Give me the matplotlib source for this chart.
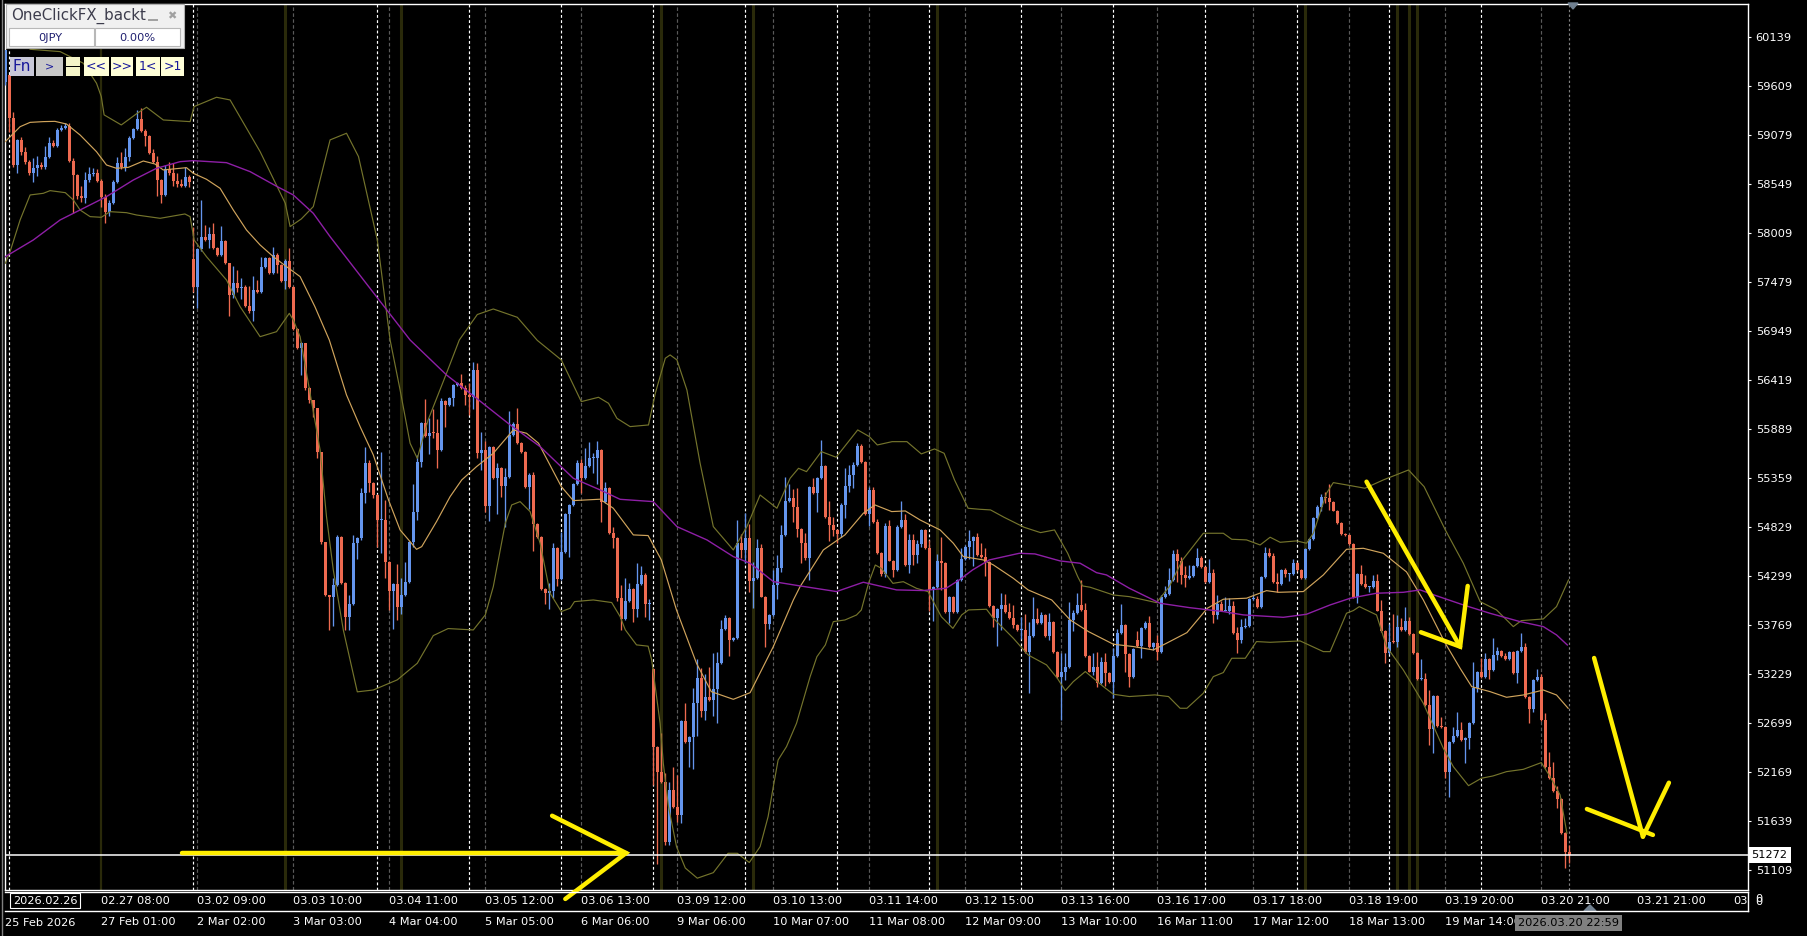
import matplotlib
matplotlib.use('Agg')
import matplotlib.pyplot as plt
from matplotlib.patches import Rectangle, Polygon
import numpy as np

# Hourly candles, closes (one row = 10 bars)
closes = [
    59997, 59257, 58751, 59022, 58895, 58787, 58661, 58715, 58751, 58726,
    58841, 58993, 58957, 59130, 59148, 59174, 58794, 58642, 58415, 58390,
    58588, 58653, 58668, 58581, 58400, 58245, 58343, 58570, 58776, 58726,
    58841, 59040, 59141, 59246, 59123, 59065, 58885, 58787, 58588, 58426,
    58704, 58661, 58581, 58545, 58523, 58617, 58563, 57432, 57837, 57974,
    57938, 58003, 57848, 57775, 57927, 57692, 57342, 57468, 57414, 57425,
    57223, 57172, 57396, 57378, 57649, 57743, 57577, 57775, 57667, 57497,
    57710, 57432, 56970, 56770, 56818, 56330, 56204, 56113, 55644, 54668,
    54090, 54072, 54198, 54722, 54216, 53855, 53993, 54650, 54704, 55192,
    55517, 55308, 55174, 54903, 54903, 54451, 54137, 54209, 53964, 54090,
    54235, 54668, 54993, 55535, 55958, 55813, 55850, 55842, 55662, 56196,
    56149, 56222, 56366, 56391, 56330, 56258, 56240, 56529, 55626, 55662,
    55055, 55698, 55355, 55463, 55271, 55373, 55825, 55944, 55735, 55644,
    55258, 55391, 54860, 54723, 54152, 54116, 54138, 54596, 54260, 54560,
    54965, 55066, 55294, 55525, 55355, 55489, 55572, 55576, 55662, 55102,
    55247, 54766, 54705, 54055, 53827, 54029, 54152, 53935, 54210, 54307,
    53993, 54000, 52446, 52175, 52066, 51416, 51976, 51795, 51705, 52724,
    52500, 52554, 52915, 53186, 52836, 52988, 52952, 53067, 53349, 53721,
    53837, 53602, 53620, 54651, 54578, 54705, 54242, 54271, 54596, 54073,
    53776, 53874, 54199, 54380, 54741, 55109, 55138, 55048, 54802, 54651,
    54488, 55258, 55193, 55355, 55489, 54932, 54849, 54795, 54752, 55066,
    55272, 55391, 55500, 55706, 55529, 54968, 55229, 54885, 54549, 54318,
    54838, 54463, 54362, 54831, 54903, 54416, 54687, 54524, 54643, 54795,
    54596, 54145, 54181, 54463, 54441, 53910, 54065, 53910, 54253, 54477,
    54607, 54679, 54716, 54524, 54499, 54452, 53971, 53838, 53935, 53982,
    53910, 53838, 53765, 53711, 53711, 53476, 53646, 53827, 53783, 53874,
    53646, 53801, 53476, 53198, 53260, 53306, 53820, 53899, 53982, 53928,
    53429, 53260, 53306, 53133, 53368, 53242, 53151, 53429, 53675, 53765,
    53451, 53198, 53502, 53541, 53729, 53791, 53523, 53567, 53476, 54065,
    54101, 54253, 54535, 54463, 54307, 54271, 54297, 54405, 54488, 54390,
    54235, 54325, 53874, 53996, 53921, 53921, 53971, 53675, 53603, 53740,
    53754, 54044, 54044, 53957, 54289, 54542, 54513, 54235, 54210, 54362,
    54318, 54318, 54434, 54362, 54271, 54589, 54694, 54921, 55048, 55156,
    55138, 55102, 55005, 54867, 54752, 54741, 54643, 54065, 54318, 54210,
    54174, 54181, 54246, 53921, 53704, 53458, 53585, 53584, 53747, 53711,
    53812, 53667, 53458, 53176, 53176, 52898, 52634, 52995, 52670, 52656,
    52175, 52500, 52562, 52627, 52518, 52536, 52706, 53078, 53259, 53205,
    53393, 53277, 53440, 53487, 53429, 53393, 53476, 53248, 53487, 53530,
    52988, 52851, 53169, 53205, 52735, 52229, 52103, 51969, 51875, 51507,
    51308, 51272,
]

# Opens follow the previous close except where the chart shows a gap
gap_opens = {0: 59654, 1: 59726, 47: 57728, 162: 53284, 283: 53603}

# Wick lengths above and below the body, in price points
upper_wicks = [
    0, 0, 70, 10, 36, 54, 20, 108, 97, 30,
    115, 65, 29, 20, 36, 29, 29, 36, 10, 104,
    90, 72, 47, 36, 18, 36, 29, 20, 65, 119,
    90, 25, 15, 100, 119, 18, 15, 36, 65, 10,
    47, 83, 115, 79, 54, 108, 25, 353, 10, 396,
    126, 79, 119, 15, 162, 15, 0, 187, 144, 97,
    29, 216, 151, 108, 108, 14, 10, 83, 18, 15,
    18, 137, 10, 10, 18, 0, 10, 0, 0, 0,
    0, 0, 72, 18, 10, 10, 97, 90, 10, 54,
    173, 36, 10, 10, 738, 220, 10, 10, 220, 180,
    216, 10, 300, 72, 10, 260, 155, 260, 155, 25,
    10, 10, 10, 10, 90, 36, 126, 90, 72, 198,
    97, 10, 10, 54, 10, 90, 263, 25, 170, 10,
    10, 18, 36, 10, 10, 10, 79, 54, 10, 216,
    10, 10, 10, 29, 43, 190, 180, 58, 100, 10,
    72, 10, 61, 10, 144, 240, 65, 10, 230, 97,
    18, 43, 10, 10, 420, 90, 90, 250, 340, 10,
    198, 10, 162, 205, 108, 250, 320, 390, 126, 97,
    36, 10, 10, 252, 100, 270, 150, 180, 97, 43,
    10, 10, 160, 144, 108, 263, 160, 97, 198, 10,
    108, 10, 97, 10, 281, 10, 173, 90, 10, 18,
    191, 108, 36, 29, 22, 10, 29, 36, 25, 10,
    29, 65, 10, 18, 209, 65, 65, 65, 43, 10,
    10, 94, 10, 72, 259, 10, 10, 10, 10, 119,
    25, 115, 14, 50, 126, 97, 10, 10, 10, 126,
    119, 97, 144, 10, 144, 169, 155, 238, 126, 36,
    10, 90, 10, 10, 198, 151, 198, 29, 126, 270,
    72, 10, 151, 169, 54, 90, 10, 83, 43, 227,
    10, 10, 10, 101, 10, 18, 72, 10, 90, 25,
    90, 126, 43, 50, 36, 97, 119, 10, 108, 25,
    10, 151, 47, 90, 29, 151, 83, 54, 65, 86,
    83, 10, 43, 30, 10, 72, 54, 36, 90, 10,
    25, 10, 43, 10, 10, 10, 10, 10, 20, 25,
    50, 155, 10, 10, 10, 10, 10, 10, 10, 97,
    101, 10, 61, 72, 119, 10, 191, 299, 126, 97,
    144, 43, 10, 10, 216, 72, 162, 10, 10, 94,
    10, 10, 101, 198, 90, 10, 10, 288, 10, 144,
    65, 10, 180, 43, 10, 36, 10, 10, 10, 151,
    43, 10, 10, 79, 29, 72, 162, 180, 54, 10,
    10, 72,
]
lower_wicks = [
    36, 144, 20, 90, 36, 20, 15, 90, 83, 15,
    15, 15, 15, 15, 10, 10, 10, 414, 36, 36,
    47, 20, 20, 15, 101, 126, 47, 15, 15, 15,
    36, 43, 10, 10, 10, 108, 15, 15, 173, 90,
    15, 15, 58, 29, 14, 15, 47, 54, 234, 15,
    15, 90, 10, 15, 15, 15, 227, 36, 36, 119,
    15, 29, 108, 15, 10, 15, 10, 10, 90, 10,
    90, 15, 10, 15, 300, 18, 36, 90, 72, 25,
    10, 360, 320, 15, 10, 150, 140, 10, 170, 15,
    100, 97, 36, 288, 360, 180, 210, 420, 144, 79,
    10, 10, 54, 90, 54, 10, 190, 47, 198, 10,
    240, 10, 83, 10, 10, 108, 200, 133, 54, 180,
    61, 162, 10, 385, 115, 440, 10, 10, 10, 10,
    10, 234, 288, 10, 10, 122, 180, 79, 72, 10,
    10, 468, 10, 10, 155, 10, 10, 158, 288, 216,
    10, 10, 108, 29, 115, 10, 10, 133, 86, 10,
    137, 170, 414, 1000, 10, 36, 36, 10, 72, 83,
    10, 280, 350, 350, 65, 100, 10, 170, 360, 10,
    10, 170, 10, 10, 90, 144, 115, 288, 10, 10,
    245, 58, 10, 151, 36, 10, 10, 162, 79, 216,
    20, 234, 10, 209, 10, 10, 170, 65, 94, 36,
    144, 65, 144, 10, 10, 10, 130, 10, 10, 22,
    36, 10, 79, 10, 10, 10, 90, 108, 90, 36,
    10, 234, 335, 10, 295, 10, 122, 10, 10, 10,
    10, 122, 274, 10, 10, 155, 10, 90, 306, 227,
    10, 10, 36, 10, 101, 10, 450, 10, 10, 10,
    10, 43, 10, 10, 468, 97, 10, 119, 10, 10,
    10, 10, 36, 36, 10, 144, 20, 180, 10, 10,
    191, 101, 10, 10, 137, 10, 10, 29, 90, 10,
    10, 10, 10, 227, 97, 97, 10, 10, 10, 10,
    10, 10, 90, 47, 10, 10, 36, 10, 137, 29,
    10, 10, 10, 10, 10, 10, 10, 10, 83, 10,
    36, 72, 10, 10, 10, 10, 10, 10, 10, 50,
    50, 90, 10, 10, 10, 10, 10, 10, 65, 10,
    10, 50, 10, 10, 10, 101, 10, 18, 54, 10,
    10, 10, 10, 10, 10, 10, 169, 259, 10, 10,
    65, 270, 10, 10, 10, 245, 119, 10, 36, 10,
    10, 101, 10, 50, 10, 10, 10, 10, 108, 10,
    10, 151, 29, 10, 10, 10, 10, 10, 97, 10,
    180, 90,
]

# Indicator lines: vertices as (bar, price)
upper_x = [6.2, 13.7, 19.5, 22.8, 24, 24.7, 29, 33, 35.3, 39.5, 46.2, 47.2, 52.8, 56.2, 63.7, 70, 71.2, 74, 77, 81.2,
           85.3, 88.3, 93, 96.2, 98.7, 101.2, 103, 105.7, 110.3, 113.5, 118, 122, 128, 133, 139, 144, 148.3, 150.8,
           152.9, 156.2, 160.8, 162.5, 165, 166.2, 167.9, 170.4, 173.7, 177, 182, 185.4, 188.7, 192.9, 196.2, 198.3,
           200.3, 204, 207.7, 213.1, 216, 218, 221.7, 225.4, 229, 232.3, 234.7, 237.3, 240.7, 243.6, 246.3, 249.7,
           254.7, 258.8, 262.3, 265.6, 268.1, 269.3, 271.2, 277, 281, 287.8, 291, 294.3, 299.5, 304.5, 306.6, 310.3,
           313.7, 316.2, 318.7, 322.8, 325.3, 327, 330.3, 332, 335.3, 339.9, 344.5, 350.8, 354.7, 360, 364.5, 368.7,
           372.8, 377, 379, 384.5, 387.8, 390.8]
upper_y = [60005, 59980, 59854, 59637, 59492, 59294, 59185, 59312, 59377, 59239, 59221, 59384, 59485, 59456, 58896,
           58336, 58083, 58166, 58300, 59023, 59095, 58842, 57939, 56854, 56312, 55734, 55571, 55987, 56493, 56854,
           57130, 57190, 57100, 56850, 56638, 56186, 56233, 56168, 56005, 55915, 55933, 56276, 56656, 56692, 56638,
           56312, 55518, 54831, 54578, 54831, 55174, 55030, 55355, 55463, 55427, 55644, 55583, 55879, 55807, 55716,
           55752, 55752, 55619, 55673, 55626, 55337, 55030, 55019, 55012, 54932, 54824, 54766, 54795, 54542, 54289,
           54188, 54174, 54090, 54072, 54007, 54181, 54470, 54759, 54759, 54694, 54687, 54632, 54716, 54661, 54676,
           54651, 54759, 55193, 55308, 55283, 55247, 55337, 55445, 55264, 54795, 54434, 54018, 53928, 53747, 53812,
           53830, 53964, 54253]

lower_x = [0, 1.2, 3.7, 6.2, 9.5, 11.2, 15, 17, 18.7, 21.2, 24, 26.2, 30.3, 32.8, 38.7, 44.9, 46.2, 47.2, 50.3, 55.3,
           58.7, 63.7, 67.8, 71, 72, 73.7, 78.7, 80.3, 82, 84.5, 88, 92, 98, 103, 107, 110.7, 117, 120, 122, 125,
           126.6, 128.7, 131.2, 133.7, 136.2, 139, 141.2, 142.3, 147, 151.6, 153.7, 155, 157.8, 160.7, 161.6, 163.7,
           164.5, 165.8, 167.8, 170, 173, 177, 180.7, 183, 186, 188.7, 190.7, 192, 193.2, 195.3, 197.8, 201.2, 202.9,
           205, 207, 209.9, 212.8, 214, 215.8, 217.5, 219, 221.9, 224.5, 227.8, 230.7, 234, 236.9, 239.1, 240.8,
           245.3, 247, 252, 255.7, 260.3, 263, 265, 267, 270, 274.5, 277, 281, 287.4, 290.8, 293.7, 295.4, 299.5,
           302, 304.5, 306.6, 310, 312.8, 316.2, 323.7, 329.5, 331.2, 335.3, 337, 338.5, 342.8, 345.3, 349.5, 354.5,
           359.5, 362, 365.8, 369, 371.9, 375.3, 379.5, 384, 386.2, 388.7, 390.4]
lower_y = [57685, 57812, 58155, 58426, 58444, 58473, 58451, 58372, 58263, 58191, 58184, 58245, 58234, 58209, 58173,
           58220, 58191, 57938, 57757, 57504, 57215, 56890, 56944, 57143, 57071, 56890, 55662, 54939, 54361, 53711,
           53040, 53060, 53170, 53350, 53650, 53726, 53711, 53874, 54181, 54867, 55066, 55102, 54994, 54651, 54109,
           53910, 53946, 54018, 54036, 54008, 53856, 53712, 53549, 53535, 53385, 52699, 52265, 51795, 51362, 51130,
           51020, 51080, 51290, 51290, 51190, 51362, 51687, 52012, 52301, 52446, 52699, 53204, 53421, 53548, 53801,
           53819, 53873, 53927, 54216, 54415, 54379, 54216, 54234, 54162, 54126, 53855, 53728, 53874, 53928, 53935,
           53838, 53621, 53440, 53332, 53187, 53054, 53151, 53260, 53097, 53014, 52989, 53007, 52989, 52862, 52862,
           53025, 53205, 53249, 53404, 53404, 53585, 53577, 53592, 53476, 53476, 53892, 53921, 53964, 53874, 53531,
           53277, 52916, 52428, 52229, 52023, 52103, 52128, 52175, 52200, 52273, 52121, 51922, 51507]

mid_x = [0, 3.7, 6.2, 9.5, 12.4, 15.3, 18.7, 22.8, 25.3, 27.8, 30.8, 34.5, 37.4, 39.5, 45.3, 47, 50.3, 53.7, 57, 60.3,
         63.7, 67, 70.3, 73.7, 77.4, 81, 85.3, 88.7, 92, 95.8, 98.7, 101.2, 102.8, 104.1, 107.8, 111.2, 114.1, 117.8,
         122, 127, 130.3, 133.3, 139, 142, 148.7, 152, 157, 160.7, 164, 167.8, 172.8, 176.5, 182, 186.2, 192, 197,
         198.7, 204.5, 209.9, 214.5, 217.4, 221.6, 225, 228.7, 233.7, 237, 239.5, 244.5, 247, 252, 255.7, 261.6,
         266.2, 270.8, 277, 282, 287, 290.3, 295.4, 300.5, 304.5, 310.3, 315.3, 318.3, 324.5, 329.5, 335.3, 339.5,
         344.5, 350.3, 354.5, 360, 363.7, 366.6, 371.2, 375.3, 379.5, 384.5, 387.8, 390.7]
mid_y = [59004, 59166, 59213, 59221, 59224, 59195, 59076, 58895, 58751, 58715, 58726, 58794, 58762, 58697, 58722,
         58661, 58596, 58498, 58263, 58046, 57884, 57757, 57649, 57541, 57215, 56854, 56258, 55915, 55608, 55120,
         54795, 54668, 54585, 54614, 54885, 55156, 55337, 55481, 55626, 55879, 55843, 55735, 55265, 55113, 55128,
         55030, 54741, 54734, 54470, 53927, 53349, 53042, 52959, 53031, 53530, 54035, 54181, 54578, 54741, 54976,
         55066, 54994, 55001, 54903, 54795, 54651, 54506, 54470, 54416, 54271, 54145, 54036, 53820, 53693, 53556,
         53531, 53494, 53567, 53682, 53946, 54044, 54055, 54137, 54119, 54127, 54307, 54585, 54596, 54542, 54340,
         54036, 53566, 53295, 53096, 53042, 52981, 53006, 53060, 53006, 52862]

ma_x = [0, 7, 13.7, 19.5, 25.3, 32, 37.8, 43.7, 47, 55.3, 61.2, 68, 72, 77, 81.2, 90, 101.2, 110.3, 117.8, 125.7, 133.7,
        142, 148.7, 153.7, 162, 167.9, 175.4, 182, 186.2, 192, 198.7, 207.8, 214.5, 222.8, 229.5, 235.2, 238.5, 241.8,
        246, 253.5, 257.4, 263.7, 268.7, 272.8, 275.3, 281, 288.7, 296, 304.5, 309.5, 319.5, 325.3, 331.2, 336.2,
        342.8, 349.5, 353.7, 357.2, 364.5, 371.2, 378.7, 384.5, 387.8, 390.5]
ma_y = [57757, 57938, 58155, 58281, 58408, 58588, 58715, 58787, 58798, 58776, 58679, 58516, 58426, 58227, 57974, 57480,
        56854, 56475, 56222, 55951, 55698, 55355, 55229, 55127, 55102, 54831, 54687, 54506, 54434, 54235, 54188, 54127,
        54228, 54145, 54138, 54163, 54253, 54361, 54470, 54542, 54535, 54459, 54434, 54332, 54307, 54163, 54000, 53953,
        53910, 53874, 53848, 53881, 53982, 54054, 54109, 54119, 54145, 54090, 53982, 53891, 53801, 53747, 53657, 53548]

# Marker bars on the time axis
olive_bars = [24, 70, 99, 164, 187, 233, 325, 348, 351, 353]
white_bars = [1, 47, 93, 116, 139, 162, 185, 208, 231, 254, 277, 300, 323, 346, 369]
grey_bars = [48, 72, 96, 120, 144, 168, 192, 216, 240, 264, 288, 312, 336, 360, 384]

# Axis labels
price_ticks = [60139, 59609, 59079, 58549, 58009, 57479, 56949, 56419, 55889, 55359, 54829, 54299, 53769, 53229,
               52699, 52169, 51639, 51109]
time_ticks = [24, 48, 72, 96, 120, 144, 168, 192, 216, 240, 264, 288, 312, 336, 360, 384, 408, 432]
time_labels_top = ['02.27 08:00', '03.02 09:00', '03.03 10:00', '03.04 11:00', '03.05 12:00', '03.06 13:00',
                   '03.09 12:00', '03.10 13:00', '03.11 14:00', '03.12 15:00', '03.13 16:00', '03.16 17:00',
                   '03.17 18:00', '03.18 19:00', '03.19 20:00', '03.20 21:00', '03.21 21:00', '03']
time_labels_low = ['27 Feb 01:00', '2 Mar 02:00', '3 Mar 03:00', '4 Mar 04:00', '5 Mar 05:00', '6 Mar 06:00',
                   '9 Mar 06:00', '10 Mar 07:00', '11 Mar 08:00', '12 Mar 09:00', '13 Mar 10:00', '16 Mar 11:00',
                   '17 Mar 12:00', '18 Mar 13:00', '19 Mar 14:00']

last_price = 51272

# Hand drawn yellow arrows, (bar, price)
arrow_lines = [
    ([44.2, 155.2], [51293, 51293]),
    ([136.7, 155.2, 140], [51697, 51293, 50795]),
    ([340.3, 363.7], [55318, 53530]),
    ([353.9, 363.7, 365.6], [53686, 53530, 54188]),
    ([397.2, 409.4], [53407, 51470]),
    ([395.4, 411.9], [51770, 51489]),
    ([409.4, 415.9], [51470, 52055]),
]

label_size = 8.2

W, H = 1807, 936
fig = plt.figure(figsize=(W / 100, H / 100), dpi=100, facecolor='black')
ax = fig.add_axes([5 / W, 1 - 890 / H, (1748 - 5) / W, (890 - 4) / H], facecolor='black')
ax.set_xlim(-0.075, 435.67)
ax.set_ylim(50892, 60496)

closes = np.array(closes, dtype=float)
opens = np.r_[closes[0], closes[:-1]]
for k, v in gap_opens.items():
    opens[k] = v
bars = np.arange(len(closes))
tops = np.maximum(opens, closes)
bots = np.minimum(opens, closes)
highs = tops + np.array(upper_wicks)
lows = bots - np.array(lower_wicks)
up = closes >= opens

red = '#ee6a50'
blue = '#6495ed'

for b in olive_bars:
    ax.axvline(b, color='#2a2a0a', lw=2.2 if b != 24 else 1.6, zorder=1)
ax.vlines(white_bars, 50892, 60496, color='white', lw=0.85, linestyles=(0, (2.4, 2.0)), zorder=2)
ax.vlines(grey_bars, 50892, 60496, color='#5a5a5a', lw=0.85, linestyles=(0, (3, 2)), zorder=2)
ax.axvline(391, color='#808080', lw=0.85, ls=(0, (2, 2)), zorder=2)

ax.vlines(bars[up], lows[up], highs[up], color=blue, lw=0.95, zorder=3)
ax.vlines(bars[~up], lows[~up], highs[~up], color=red, lw=0.95, zorder=3)
heights = np.maximum(tops - bots, 11)
ax.bar(bars[up], heights[up], bottom=bots[up], width=0.9, color=blue, linewidth=0, zorder=4)
ax.bar(bars[~up], heights[~up], bottom=bots[~up], width=0.9, color=red, linewidth=0, zorder=4)

ax.plot(upper_x, upper_y, color='#74742c', lw=0.85, zorder=5)
ax.plot(lower_x, lower_y, color='#74742c', lw=0.85, zorder=5)
ax.plot(mid_x, mid_y, color='#d0a45c', lw=0.85, zorder=5)
ax.plot(ma_x, ma_y, color='#8e1fa6', lw=1.0, zorder=5)

ax.axhline(last_price, color='white', lw=1.1, zorder=6)

for xs, ys in arrow_lines:
    ax.plot(xs, ys, color='#ffee00', lw=3.2, solid_capstyle='round', solid_joinstyle='miter', zorder=7, clip_on=False)

# Price axis on the right
ax.yaxis.tick_right()
ax.set_yticks(price_ticks)
ax.tick_params(axis='y', colors='white', length=2.5, width=0.8, labelsize=label_size, pad=3)
ax.text(1.002, last_price, str(last_price), transform=ax.get_yaxis_transform(), fontsize=label_size, color='black',
        va='center', ha='left', zorder=9, bbox=dict(facecolor='white', edgecolor='none', pad=2.2))

# Time axis, two rows of labels
ax.set_xticks(time_ticks)
ax.set_xticklabels(time_labels_top, ha='left', fontsize=label_size, color='white')
ax.tick_params(axis='x', colors='white', length=0, pad=4)
for t, s in zip(time_ticks, time_labels_low):
    ax.text(t, -0.0365, s, transform=ax.get_xaxis_transform(), fontsize=label_size, color='white', ha='left',
            va='center', clip_on=False)

for side in ['top', 'left', 'right', 'bottom']:
    ax.spines[side].set_color('white')
    ax.spines[side].set_linewidth(1.0)

# Window furniture drawn in pixel coordinates on an overlay
ui = fig.add_axes([0, 0, 1, 1], facecolor='none')
ui.set_xlim(0, W)
ui.set_ylim(H, 0)
ui.axis('off')

ui.plot([5, 1748], [892, 892], color='white', lw=1.0)
ui.plot([5, 1748], [911, 911], color='white', lw=1.0)
ui.plot([1748, 1748], [892, 911], color='white', lw=1.0)
ui.plot([2, 2], [0, 936], color='#808080', lw=1.0)
ui.text(13, 900.5, '2026.02.26', fontsize=label_size, color='white', va='center', ha='left',
        bbox=dict(facecolor='black', edgecolor='white', linewidth=0.8, pad=1.8))
ui.text(5, 923, '25 Feb 2026', fontsize=label_size, color='white', va='center', ha='left')
ui.text(1518, 923, '2026.03.20 22:59', fontsize=label_size, color='black', va='center', ha='left',
        bbox=dict(facecolor='#808080', edgecolor='none', pad=2.0))
ui.text(1755, 899, '0', fontsize=label_size, color='white', va='center', ha='left')
ui.text(1755, 902, '0', fontsize=label_size, color='white', va='center', ha='left')
ui.add_patch(Polygon([[1568, 3], [1578, 3], [1573, 9]], color='#708090'))
ui.add_patch(Polygon([[1584, 911], [1596, 911], [1590, 905]], color='#708090'))

# Expert advisor panel
ui.add_patch(Rectangle((6, 4), 178, 44, facecolor='#f0f0f0', edgecolor='#b0b0b0', lw=0.8))
ui.text(11, 16, 'OneClickFX_backt', fontsize=10.8, color='#3c3c4c', va='center', ha='left')
ui.plot([149, 157], [20, 20], color='#a0a0a0', lw=1.4)
ui.text(172, 16, '\u2716', fontsize=8, color='#a0a0a0', va='center', ha='center')
ui.add_patch(Rectangle((9, 28), 85, 18, facecolor='white', edgecolor='#b8b8b8', lw=0.8))
ui.add_patch(Rectangle((95, 28), 85, 18, facecolor='white', edgecolor='#b8b8b8', lw=0.8))
ui.text(50, 38, '0JPY', fontsize=label_size, color='#202070', va='center', ha='center')
ui.text(137, 38, '0.00%', fontsize=label_size, color='#202070', va='center', ha='center')

buttons = [(10, 24, 'Fn', '#c8c8d8', 11), (36, 27, '>', '#c8c8c8', 8), (84, 25, '<<', '#ffffd8', 9),
           (111, 22, '>>', '#ffffd8', 9), (136, 24, '1<', '#ffffd8', 9), (161, 23, '>1', '#ffffd8', 9)]
for bx, bw, label, bg, fs in buttons:
    ui.add_patch(Rectangle((bx, 57), bw, 19, facecolor=bg, edgecolor='none'))
    ui.text(bx + bw / 2, 66.5, label, fontsize=fs, color='#18189a', va='center', ha='center')
ui.add_patch(Rectangle((66, 57), 14, 9, facecolor='#f4f4c8', edgecolor='none'))
ui.add_patch(Rectangle((66, 67), 14, 9, facecolor='#f4f4c8', edgecolor='none'))

fig.savefig('out.png', dpi=100, facecolor='black')
